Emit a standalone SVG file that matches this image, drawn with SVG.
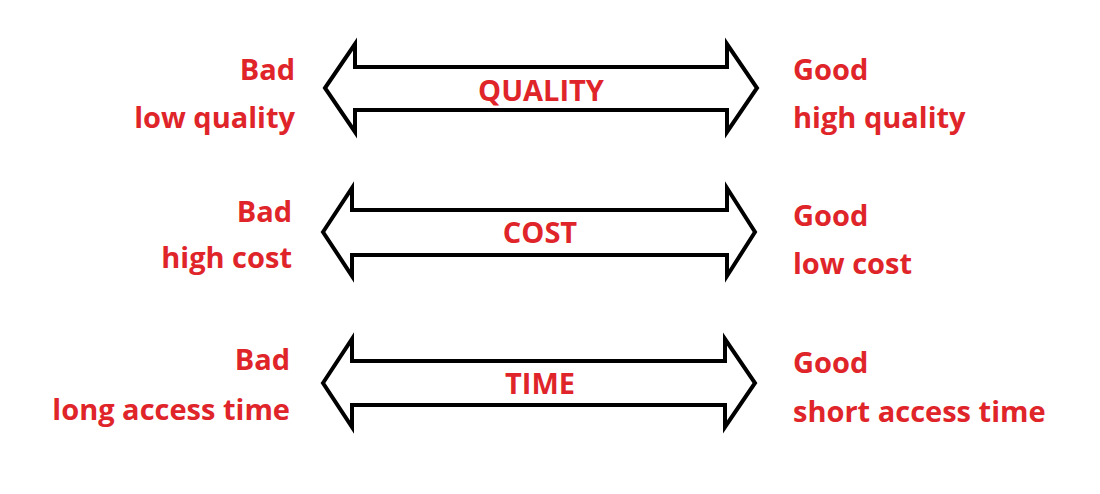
<svg xmlns="http://www.w3.org/2000/svg" width="1100" height="494" viewBox="0 0 1100 494">
<style>
.a{fill:none;stroke:#000;stroke-width:4;stroke-linejoin:miter}
text{font-family:"Open Sans","Liberation Sans",sans-serif;font-weight:bold;font-size:29px;fill:#e0252a}
.l{text-anchor:end}.c{text-anchor:middle}
</style>
<rect width="1100" height="494" fill="#fff"/>
<g id="connectors">
<path class="a" d="M325,88 L355,44 L355,67 L727,67 L727,44 L757,88 L727,132 L727,110 L355,110 L355,132 Z"/>
<path class="a" d="M323,232 L352,188 L352,210 L727,210 L727,188 L755,232 L727,276 L727,255 L352,255 L352,276 Z"/>
<path class="a" d="M323,383 L352,339 L352,361 L725,361 L725,339 L755,383 L725,427 L725,405 L352,405 L352,427 Z"/>
</g>
<g id="quality"><text class="l" x="295" y="80">Bad</text><text class="l" x="295" y="128">low quality</text><text class="c" x="541" y="101">QUALITY</text><text x="793" y="80">Good</text><text x="793" y="128">high quality</text></g>
<g id="cost"><text class="l" x="292" y="222">Bad</text><text class="l" x="292" y="268">high cost</text><text class="c" x="540" y="243">COST</text><text x="793" y="226">Good</text><text x="793" y="274">low cost</text></g>
<g id="time"><text class="l" x="290" y="370">Bad</text><text class="l" x="290" y="420">long access time</text><text class="c" x="540" y="394">TIME</text><text x="793" y="373">Good</text><text x="793" y="422">short access time</text></g>
</svg>
